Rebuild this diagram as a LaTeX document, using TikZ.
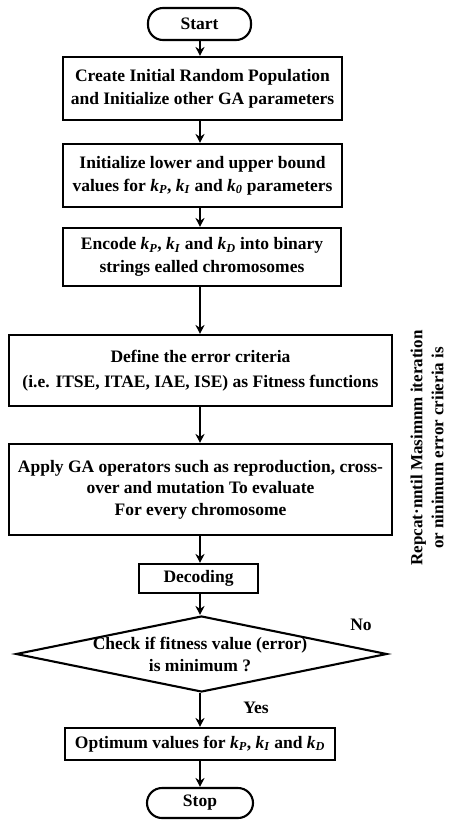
\documentclass[tikz,border=0pt]{standalone}
\usepackage{fontspec}
\setmainfont{Liberation Serif}
\usetikzlibrary{shapes.geometric,arrows.meta}
\newcommand{\kk}[1]{\textit{k}\textsubscript{\textit{#1}}}
\begin{document}
\begin{tikzpicture}[x=1pt,y=-1pt,
  font=\fontsize{17.5}{23}\selectfont\bfseries,
  stepbox/.style={draw,line width=2.1pt,rectangle,align=center,inner sep=0pt},
  term/.style={draw,line width=2.1pt,rectangle,rounded corners=15pt,inner sep=0pt},
  flow/.style={line width=2pt,-{Stealth[length=9pt,width=9pt]}},
  lbl/.style={inner sep=0pt}]
\useasboundingbox (0,0) rectangle (449,820);

\node[term,minimum width=103pt,minimum height=32pt] (start) at (199.5,24) {Start};
\node[stepbox,minimum width=279pt,minimum height=63pt] (b1) at (202.5,88.5)
  {Create Initial Random Population\\and Initialize other GA parameters};
\node[stepbox,minimum width=279pt,minimum height=63pt] (b2) at (202.5,175.5)
  {Initialize lower and upper bound\\values for \kk{P}, \kk{I} and \kk{0} parameters};
\node[stepbox,minimum width=278pt,minimum height=58pt] (b3) at (202,257)
  {Encode \kk{P}, \kk{I} and \kk{D} into binary\\strings ealled chromosomes};
\node[stepbox,minimum width=383pt,minimum height=71pt,font=\fontsize{17.5}{25}\selectfont\bfseries] (b4) at (200.5,370.5)
  {Define the error criteria\\(i.e. ITSE, ITAE, IAE, ISE) as Fitness functions};
\node[stepbox,minimum width=383pt,minimum height=91pt,font=\fontsize{17.5}{21.5}\selectfont\bfseries] (b5) at (200.5,489.5)
  {Apply GA operators such as reproduction, cross-\\over and mutation To evaluate\\For every chromosome};
\node[stepbox,minimum width=119pt,minimum height=29pt] (dec) at (198.5,578.5) {Decoding};
\node[draw,line width=2.1pt,diamond,minimum width=371pt,minimum height=76pt,inner sep=0pt] (chk) at (201.5,654) {};
\node[lbl,align=center,font=\fontsize{17.5}{22}\selectfont\bfseries] (chkt) at (200,654)
  {Check if fitness value (error)\\is minimum ?};
\node[stepbox,minimum width=270pt,minimum height=32pt] (opt) at (200,744)
  {Optimum values for \kk{P}, \kk{I} and \kk{D}};
\node[term,minimum width=106pt,minimum height=30pt] (stop) at (200,803) {Stop};

\node[lbl] (no) at (361,625) {No};
\node[lbl] (yes) at (256,708) {Yes};
\node[lbl,rotate=90,align=center,font=\fontsize{17}{21}\selectfont\bfseries] (rep) at (427,448)
  {Repcat·nntil Masimnm iteration\\or ninimum error criieria is};

\draw[flow] (start.south -| 200,0) -- (b1.north -| 200,0);
\draw[flow] (b1.south -| 200,0) -- (b2.north -| 200,0);
\draw[flow] (b2.south -| 200,0) -- (b3.north -| 200,0);
\draw[flow] (b3.south -| 200,0) -- (b4.north -| 200,0);
\draw[flow] (b4.south -| 200,0) -- (b5.north -| 200,0);
\draw[flow] (b5.south -| 200,0) -- (dec.north -| 200,0);
\draw[flow] (dec.south -| 200,0) -- (chk.north -| 200,0);
\draw[flow] (chk.south -| 200,0) -- (opt.north -| 200,0);
\draw[flow] (opt.south -| 200,0) -- (stop.north -| 200,0);
\end{tikzpicture}
\end{document}
